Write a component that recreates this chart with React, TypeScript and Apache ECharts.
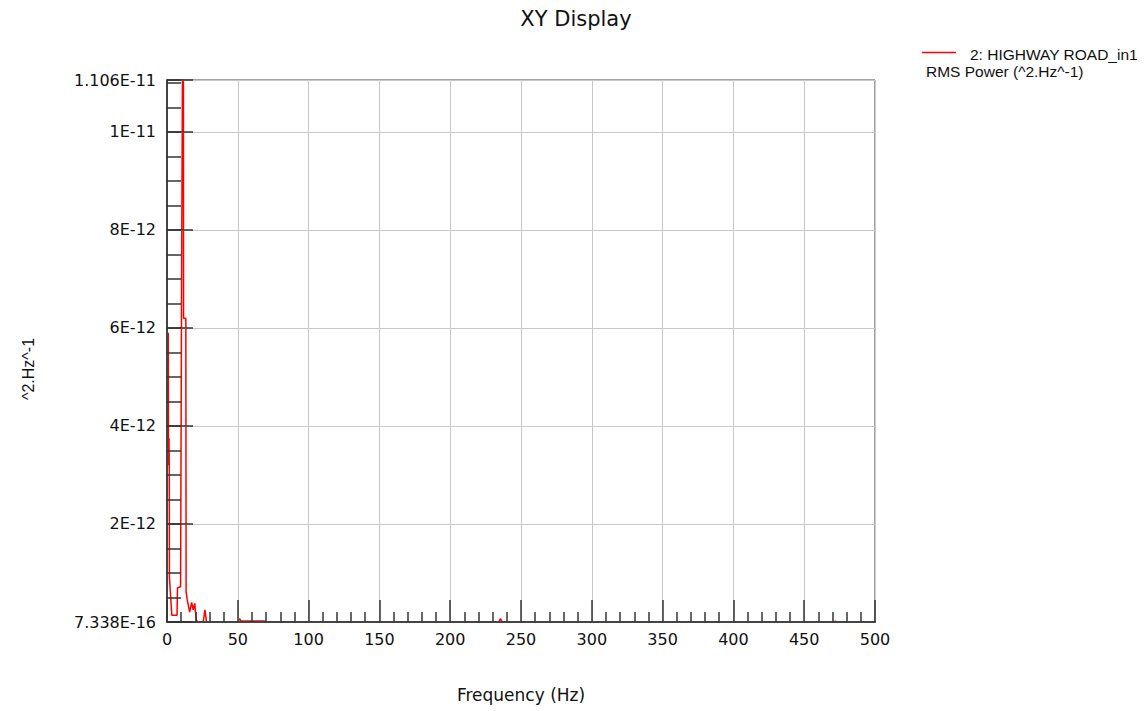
import React, { useEffect, useRef } from "react";
import * as echarts from "echarts";

const TITLE = "XY Display";
const X_NAME = "Frequency (Hz)";
const Y_NAME = "^2.Hz^-1";
const LEGEND_SERIES = "2: HIGHWAY ROAD_in1";
const LEGEND_UNIT = "RMS Power (^2.Hz^-1)";

const X_MIN = 0;
const X_MAX = 500;
const X_STEP = 50;

const Y_MIN = 0;
const Y_MIN_LABEL = "7.338E-16";
const Y_MAX = 1.106e-11;
const Y_STEP = 2e-12;
const Y_MINOR_STEP = 0.5e-12;

const freqHz = [
  0.9, 1.1, 1.4, 1.6, 1.7, 3.4, 7.1, 7.4, 9.6, 10.3, 10.6, 10.9, 11.6, 11.7,
  13.3, 13.5, 14.3, 16.0, 17.4, 18.5, 19.6, 20.6, 21.6, 25.6, 26.8, 27.9,
  49.5, 50.4, 51.3, 52.3, 68.8, 69.5, 234.3, 235.5, 236.7, 471.3, 472.0,
  472.7, 500,
];

const rmsPower = [
  5.9e-12, 3.2e-12, 3.75e-12, 3.15e-12, 0.92e-12, 0.14e-12, 0.14e-12, 0.7e-12,
  0.72e-12, 6.9e-12, 6.9e-12, 1.106e-11, 1.106e-11, 6.2e-12, 6.2e-12,
  0.62e-12, 0.45e-12, 0.2e-12, 0.4e-12, 0.25e-12, 0.38e-12, 0.05e-12,
  7.338e-16, 7.338e-16, 0.25e-12, 7.338e-16, 7.338e-16, 0.02e-12, 0.07e-12,
  0.02e-12, 0.02e-12, 7.338e-16, 7.338e-16, 0.07e-12, 7.338e-16, 7.338e-16,
  0.02e-12, 7.338e-16, 7.338e-16,
];

function sci(v: number): string {
  if (v <= 0) return Y_MIN_LABEL;
  const e = Math.floor(Math.log10(v) + 1e-9);
  const m = Math.round((v / Math.pow(10, e)) * 1000) / 1000;
  return `${m}E${e}`;
}

const TICK_FONT = "DejaVu Sans";
const ARIAL = "Liberation Sans";

export default function App() {
  const ref = useRef<HTMLDivElement>(null);

  useEffect(() => {
    if (!ref.current) return;
    const chart = echarts.init(ref.current, undefined, { renderer: "svg" });
    const data = freqHz.map((f, i) => [f, rmsPower[i]]);

    const option: any = {
      animation: false,
      backgroundColor: "#ffffff",
      grid: {
        left: 167,
        right: 271,
        top: 80,
        bottom: 89,
        show: true,
        borderColor: "#444",
        borderWidth: 1,
        backgroundColor: "transparent",
      },
      xAxis: {
        type: "value",
        min: X_MIN,
        max: X_MAX,
        interval: X_STEP,
        z: 5,
        axisLine: { show: true, lineStyle: { color: "#444", width: 2 } },
        axisTick: {
          show: true,
          inside: true,
          length: 22,
          lineStyle: { color: "#333", width: 1.5 },
        },
        minorTick: {
          show: true,
          splitNumber: 5,
          length: 10,
          lineStyle: { color: "#333", width: 1.5 },
        },
        splitLine: { show: true, lineStyle: { color: "#c8c8c8", width: 1 } },
        axisLabel: {
          color: "#111",
          fontFamily: TICK_FONT,
          fontSize: 16,
          margin: 9,
        },
      },
      yAxis: [
        {
          type: "value",
          position: "left",
          min: Y_MIN,
          max: Y_MAX,
          interval: Y_STEP,
          z: 5,
          axisLine: { show: true, lineStyle: { color: "#444", width: 2 } },
          axisTick: {
            show: true,
            inside: true,
            length: 26,
            lineStyle: { color: "#333", width: 1.5 },
          },
          splitLine: { show: true, lineStyle: { color: "#c8c8c8", width: 1 } },
          axisLabel: {
            color: "#111",
            fontFamily: TICK_FONT,
            fontSize: 16,
            margin: 11,
            formatter: (v: number) => sci(v),
          },
        },
        {
          type: "value",
          position: "left",
          min: Y_MIN,
          max: Y_MAX,
          interval: Y_MINOR_STEP,
          z: 5,
          axisLine: { show: false },
          axisTick: {
            show: true,
            inside: true,
            length: 14,
            lineStyle: { color: "#333", width: 1.5 },
          },
          splitLine: { show: false },
          axisLabel: { show: false },
        },
      ],
      series: [
        {
          type: "line",
          name: LEGEND_SERIES,
          data,
          xAxisIndex: 0,
          yAxisIndex: 0,
          showSymbol: false,
          symbol: "none",
          z: 2,
          lineStyle: { color: "#ff0000", width: 1.5 },
          itemStyle: { color: "#ff0000" },
        },
      ],
      graphic: [
        {
          type: "text",
          x: 576,
          y: 19,
          style: {
            text: TITLE,
            fill: "#111",
            fontFamily: TICK_FONT,
            fontSize: 21,
            textAlign: "center",
            textVerticalAlign: "middle",
          },
        },
        {
          type: "text",
          x: 521,
          y: 695,
          style: {
            text: X_NAME,
            fill: "#111",
            fontFamily: TICK_FONT,
            fontSize: 17,
            textAlign: "center",
            textVerticalAlign: "middle",
          },
        },
        {
          type: "text",
          x: 28,
          y: 369,
          rotation: Math.PI / 2,
          style: {
            text: Y_NAME,
            fill: "#111",
            fontFamily: ARIAL,
            fontSize: 16,
            textAlign: "center",
            textVerticalAlign: "middle",
          },
        },
        {
          type: "line",
          shape: { x1: 922, y1: 52.5, x2: 956, y2: 52.5 },
          style: { stroke: "#ff0000", lineWidth: 1.5 },
        },
        {
          type: "text",
          x: 970,
          y: 54,
          style: {
            text: LEGEND_SERIES,
            fill: "#111",
            fontFamily: ARIAL,
            fontSize: 15.5,
            textAlign: "left",
            textVerticalAlign: "middle",
          },
        },
        {
          type: "text",
          x: 926,
          y: 71,
          style: {
            text: LEGEND_UNIT,
            fill: "#111",
            fontFamily: ARIAL,
            fontSize: 15.5,
            textAlign: "left",
            textVerticalAlign: "middle",
          },
        },
      ],
    };

    chart.setOption(option);
    return () => chart.dispose();
  }, []);

  return (
    <div
      ref={ref}
      style={{
        position: "fixed",
        left: 0,
        top: 0,
        width: 1146,
        height: 711,
        background: "#fff",
      }}
    />
  );
}
